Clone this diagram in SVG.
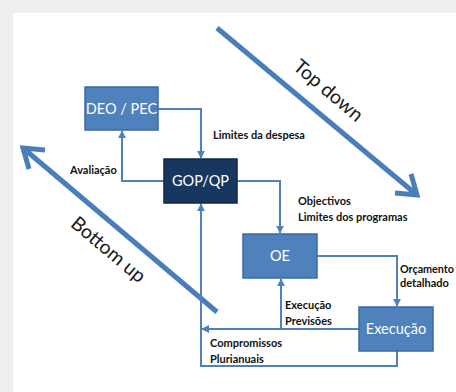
<svg xmlns="http://www.w3.org/2000/svg" width="456" height="392" viewBox="0 0 456 392">
<defs>
<style>
.box{fill:#4f81bd;stroke:#3b6aa3;stroke-width:1.5}
.dark{fill:#17375e;stroke:#10294a;stroke-width:1.5}
.bt{font-family:Lato,"Open Sans",sans-serif;font-size:14.5px;fill:#ffffff;text-anchor:middle}
.lb{font-family:Lato,"Open Sans",sans-serif;font-size:11px;font-weight:bold;fill:#111111}
.big{font-family:Lato,"Open Sans",sans-serif;font-size:19.5px;fill:#1a1a1a;text-anchor:middle}
.con{fill:none;stroke:#4f81bd;stroke-width:2}
.arr{fill:none;stroke:#4a7ebb;stroke-width:5;stroke-linejoin:miter}
</style>
<marker id="ah" viewBox="0 0 10 10" refX="9" refY="5" markerWidth="8" markerHeight="8" markerUnits="userSpaceOnUse" orient="auto">
<path d="M0,0 L10,5 L0,10 Z" fill="#4f81bd"/>
</marker>
</defs>
<rect x="0" y="0" width="456" height="392" fill="#efefef"/>
<rect x="13" y="13" width="443" height="379" fill="#ffffff"/>
<g id="big-arrows">
<path class="arr" d="M217,28 L417,195 M395,193 L417,195 L411,174"/>
<path class="arr" d="M217,312 L23,148 M45,150 L23,148 L29,169"/>
<text class="big" transform="translate(328,91) rotate(40)" x="0" y="6">Top down</text>
<text class="big" transform="translate(108,250) rotate(40)" x="0" y="6">Bottom up</text>
</g>
<g id="connectors">
<path class="con" d="M158,109 H201 V158" marker-end="url(#ah)"/>
<path class="con" d="M164,181 H122 V131" marker-end="url(#ah)"/>
<path class="con" d="M237,181 H280 V233" marker-end="url(#ah)"/>
<path class="con" d="M317,256 H397 V306" marker-end="url(#ah)"/>
<path class="con" d="M359,329 H202" marker-end="url(#ah)"/>
<path class="con" d="M281,329 V279" marker-end="url(#ah)"/>
<path class="con" d="M397,351 V366 H201 V204" marker-end="url(#ah)"/>
</g>
<g id="labels">
<text class="lb" x="213" y="139">Limites da despesa</text>
<text class="lb" x="70" y="174">Avaliação</text>
<text class="lb" x="298" y="205">Objectivos</text>
<text class="lb" x="298" y="221">Limites dos programas</text>
<text class="lb" x="400" y="273" textLength="54" lengthAdjust="spacingAndGlyphs">Orçamento</text>
<text class="lb" x="400" y="287">detalhado</text>
<text class="lb" x="285" y="309">Execução</text>
<text class="lb" x="285" y="325">Previsões</text>
<text class="lb" x="210" y="347">Compromissos</text>
<text class="lb" x="210" y="363">Plurianuais</text>
</g>
<g id="deo-pec">
<rect class="box" x="85" y="87" width="73" height="43"/>
<text class="bt" x="121.5" y="114">DEO / PEC</text>
</g>
<g id="gop-qp">
<rect class="dark" x="164" y="159" width="73" height="44"/>
<text class="bt" x="200.5" y="186">GOP/QP</text>
</g>
<g id="oe">
<rect class="box" x="243" y="234" width="74" height="44"/>
<text class="bt" x="280" y="261">OE</text>
</g>
<g id="execucao">
<rect class="box" x="359" y="307" width="74" height="44"/>
<text class="bt" x="396" y="334">Execução</text>
</g>
</svg>
